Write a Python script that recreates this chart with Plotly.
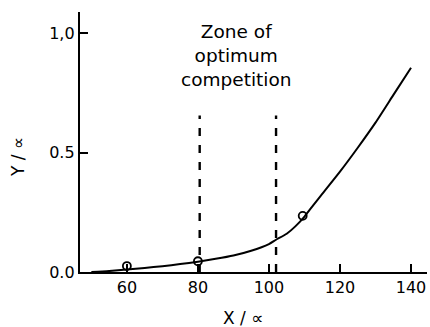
import plotly.graph_objects as go

# Curve
curve_x = [50, 55, 60, 65, 70, 75, 80, 85, 90, 95, 100, 102, 105, 107.5, 110, 112.5, 115, 120, 125, 130, 135, 140]
curve_y = [0.0, 0.004, 0.01, 0.017, 0.024, 0.033, 0.043, 0.055, 0.069, 0.089, 0.117, 0.135, 0.16, 0.192, 0.232, 0.28, 0.327, 0.42, 0.52, 0.625, 0.74, 0.855]

# Observed points (open circles)
pts_x = [60, 80, 109.5]
pts_y = [0.025, 0.045, 0.235]

# Zone boundaries
zone_x = [80.5, 102]
zone_top = 0.655

x_ticks = [60, 80, 100, 120, 140]
y_ticks = [0.0, 0.5, 1.0]
y_tick_text = ["0.0", "0.5", "1,0"]

font = "DejaVu Sans"

fig = go.Figure()
fig.add_trace(go.Scatter(x=curve_x, y=curve_y, mode="lines",
                         line=dict(color="black", width=2, shape="spline", smoothing=0.6),
                         showlegend=False, hoverinfo="skip"))
for zx in zone_x:
    fig.add_trace(go.Scatter(x=[zx, zx], y=[0, zone_top], mode="lines",
                             line=dict(color="black", width=2.4, dash="8px,9px"),
                             showlegend=False, hoverinfo="skip"))
fig.add_trace(go.Scatter(x=pts_x, y=pts_y, mode="markers",
                         marker=dict(symbol="circle-open", size=8, color="black", line=dict(width=1.8)),
                         showlegend=False, hoverinfo="skip"))

fig.add_annotation(x=90.8, y=0.905, xref="x", yref="y",
                   text="Zone of<br>optimum<br>competition",
                   showarrow=False, align="center",
                   font=dict(family=font, size=18.5, color="black"))

# Axis titles (pixel positions converted to paper coords)
pw, ph = 430 - 80 - 3, 327 - 12 - 55
def px(x): return (x - 80) / pw
def py(y): return (327 - y - 55) / ph

fig.add_annotation(x=px(243), y=py(318), xref="paper", yref="paper", text="X / ∝", showarrow=False,
                   xanchor="center", yanchor="middle",
                   font=dict(family=font, size=17, color="black"))
fig.add_annotation(x=px(18), y=py(157), xref="paper", yref="paper", text="Y / ∝", showarrow=False,
                   xanchor="center", yanchor="middle", textangle=-90,
                   font=dict(family=font, size=17, color="black"))

fig.update_layout(
    width=430, height=327,
    margin=dict(l=80, r=3, t=12, b=55),
    paper_bgcolor="white", plot_bgcolor="white",
    font=dict(family=font, size=16, color="black"),
    xaxis=dict(range=[46.8, 144.5], tickvals=x_ticks, ticks="inside", ticklen=8, tickwidth=2,
               tickcolor="black", showline=True, linecolor="black", linewidth=2.4,
               showgrid=False, zeroline=False),
    yaxis=dict(range=[0, 1.088], tickvals=y_ticks, ticktext=y_tick_text, ticks="inside",
               ticklen=8, tickwidth=2, tickcolor="black", showline=True, linecolor="black",
               linewidth=2.4, showgrid=False, zeroline=False),
)

fig.write_html("out.html")
